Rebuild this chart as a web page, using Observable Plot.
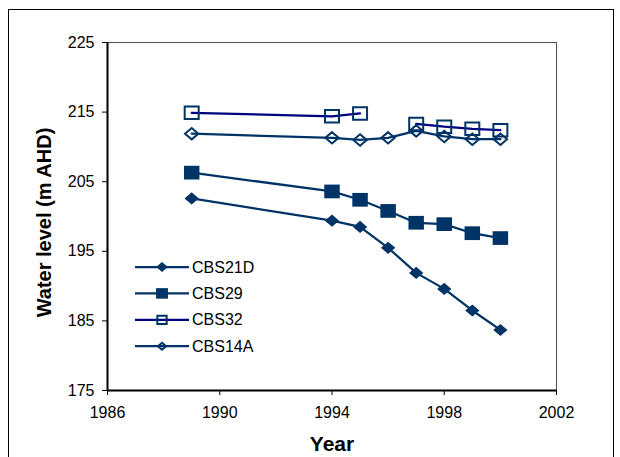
<!DOCTYPE html>
<html>
<head>
<meta charset="utf-8">
<script src="https://cdn.jsdelivr.net/npm/d3@7"></script>
<script src="https://cdn.jsdelivr.net/npm/@observablehq/plot@0.6"></script>
<style>
  html, body { margin: 0; padding: 0; background: #fff; }
  #wrap { position: relative; width: 620px; height: 457px; overflow: hidden; font-family: "Liberation Sans", Arial, sans-serif; }
  #border { position: absolute; left: 8px; top: 9px; width: 606px; height: 470px; border: 1px solid #000; box-sizing: border-box; }
  #chart { position: absolute; left: 0; top: 0; }
</style>
</head>
<body>
<div id="wrap"><div id="border"></div><div id="chart"></div></div>
<script>
// Observation years and bore water levels (m AHD)
const years = [1989, 1994, 1995, 1996, 1997, 1998, 1999, 2000];
const cbs21d = [202.6, 199.4, 198.5, 195.5, 191.9, 189.6, 186.5, 183.7];
const cbs29 = [206.3, 203.6, 202.4, 200.8, 199.1, 198.9, 197.6, 196.9];
const cbs32 = [214.9, 214.4, 214.8, NaN, 213.3, 212.9, 212.6, 212.4];
const cbs14a = [211.9, 211.3, 211.0, 211.3, 212.3, 211.5, 211.1, 211.1];
const seriesNames = ["CBS21D", "CBS29", "CBS32", "CBS14A"];
const xTicks = [1986, 1990, 1994, 1998, 2002];
const yTicks = [175, 185, 195, 205, 215, 225];

// Slightly wide square and diamond marker shapes
const squareSym = {
  draw(ctx, size) {
    const r = Math.sqrt(size / Math.PI), w = r * 1.06, h = r * 0.94;
    ctx.moveTo(-w, -h); ctx.lineTo(w, -h); ctx.lineTo(w, h); ctx.lineTo(-w, h); ctx.closePath();
  }
};
const diamondSym = {
  draw(ctx, size) {
    const r = Math.sqrt(size / Math.PI), w = r * 1.08, h = r * 0.92;
    ctx.moveTo(0, -h); ctx.lineTo(w, 0); ctx.lineTo(0, h); ctx.lineTo(-w, 0); ctx.closePath();
  }
};

const navy = "#003366";
const styles = {
  CBS21D: {values: cbs21d, line: navy, symbol: diamondSym, filled: true, r: 6.6, lr: 5.4},
  CBS29:  {values: cbs29,  line: navy, symbol: squareSym,  filled: true, r: 7.3, lr: 5.6},
  CBS32:  {values: cbs32,  line: "#000080", symbol: squareSym, filled: false, r: 6.6, lr: 4.4},
  CBS14A: {values: cbs14a, line: navy, symbol: diamondSym, filled: false, r: 6.2, lr: 3.8}
};

const seriesMarks = seriesNames.flatMap((name) => {
  const s = styles[name];
  const rows = years.map((year, i) => ({series: name, year, level: s.values[i]}));
  return [
    Plot.line(rows, {x: "year", y: "level", stroke: s.line, strokeWidth: 2.25}),
    Plot.dot(rows, {
      x: "year", y: "level", symbol: s.symbol, r: s.r,
      fill: s.filled ? navy : "none",
      stroke: s.filled ? "none" : navy,
      strokeWidth: s.filled ? 0 : 2
    })
  ];
});

const font = "Liberation Sans, Arial, sans-serif";

const chart = Plot.plot({
  width: 620,
  height: 457,
  marginLeft: 107,
  marginRight: 64,
  marginTop: 42,
  marginBottom: 67,
  style: {fontFamily: font, fontSize: "16px", color: "#000", background: "transparent", overflow: "visible"},
  x: {domain: [1986, 2002]},
  y: {domain: [175, 225]},
  marks: [
    Plot.frame({stroke: "#555", strokeWidth: 1.1}),
    Plot.ruleX([1986], {stroke: "#000", strokeWidth: 2}),
    Plot.ruleY([175], {stroke: "#000", strokeWidth: 2}),
    Plot.axisX({ticks: xTicks, tickFormat: (d) => String(d), tickSize: 5, tickPadding: 11, label: null, fontSize: 16}),
    Plot.axisY({ticks: yTicks, tickSize: 5, tickPadding: 8, label: null, fontSize: 16}),
    Plot.text(["Year"], {frameAnchor: "bottom", textAnchor: "middle", lineAnchor: "middle", dy: 54, fontWeight: "bold", fontSize: 21}),
    Plot.text(["Water level (m AHD)"], {frameAnchor: "left", textAnchor: "middle", lineAnchor: "middle", rotate: -90, dx: -63, dy: 6, fontWeight: "bold", fontSize: 20}),
    ...seriesMarks
  ]
});
document.getElementById("chart").appendChild(chart);

// Legend in the lower-left of the plot area
const svg = d3.select(chart);
const legend = svg.append("g").attr("transform", "translate(135,267)");
seriesNames.forEach((name, i) => {
  const s = styles[name];
  const row = legend.append("g").attr("transform", `translate(0,${i * 26.4})`);
  row.append("line").attr("x1", 0).attr("x2", 54).attr("y1", 0).attr("y2", 0)
    .attr("stroke", s.line).attr("stroke-width", 2.25);
  row.append("path")
    .attr("transform", "translate(27,0)")
    .attr("d", d3.symbol(s.symbol, Math.PI * s.lr * s.lr)())
    .attr("fill", s.filled ? navy : "none")
    .attr("stroke", s.filled ? "none" : navy)
    .attr("stroke-width", s.filled ? 0 : 2);
  row.append("text").attr("x", 57).attr("y", 0).attr("dy", "0.35em")
    .attr("text-anchor", "start")
    .attr("font-family", font).attr("font-size", 16).attr("fill", "#000")
    .text(name);
});
</script>
</body>
</html>
